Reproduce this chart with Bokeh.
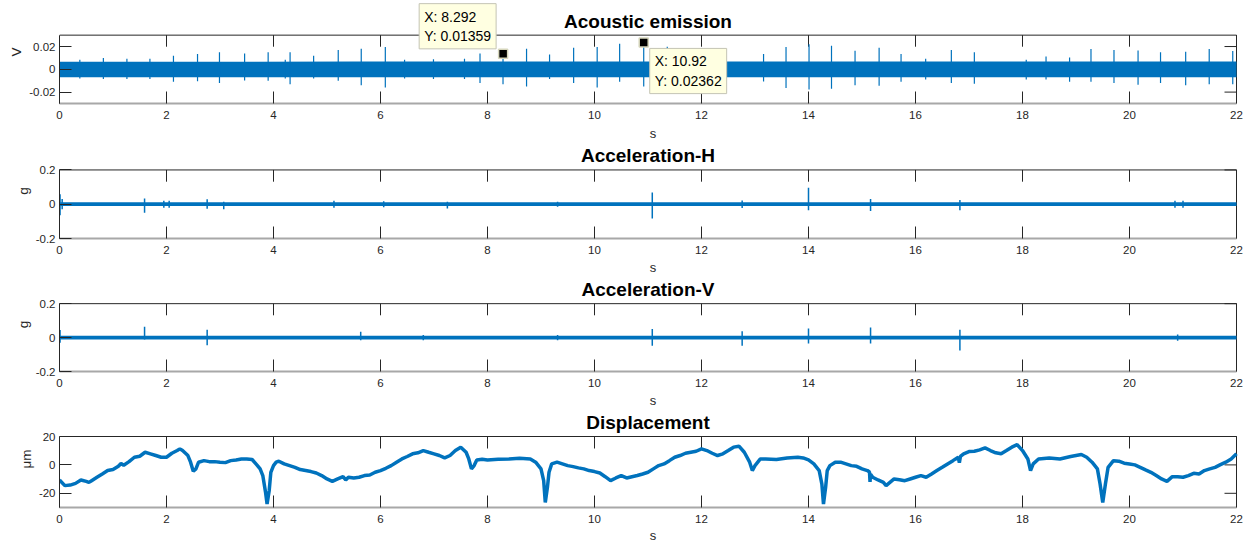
from bokeh.plotting import figure
from bokeh.models import Range1d, FixedTicker, Label, CustomJSTickFormatter
from bokeh.layouts import column
from bokeh.embed import file_html
from bokeh.resources import INLINE

# ---------------- data ----------------
x_ticks = [0, 2, 4, 6, 8, 10, 12, 14, 16, 18, 20, 22]
x_lim = (0, 22)

titles = ["Acoustic emission", "Acceleration-H", "Acceleration-V", "Displacement"]
y_labels = ["V", "g", "g", "\u03bcm"]
x_label = "s"

ae_lim = (-0.03, 0.03)
acc_lim = (-0.2, 0.2)
disp_lim = (-30, 20)
ae_ticks = [-0.02, 0, 0.02]
acc_ticks = [-0.2, 0, 0.2]
disp_ticks = [-20, 0, 20]

# acoustic emission: dense noise band envelope + burst spikes
ae_env_t = [0, 5.5, 11, 16.5, 22]
ae_env_hi = [0.0066, 0.0068, 0.0069, 0.0068, 0.0068]
ae_env_lo = [-0.0070, -0.0069, -0.0069, -0.0069, -0.0070]
ae_spk_t = [0.38, 0.82, 1.26, 1.69, 2.13, 2.58, 2.99, 3.46, 3.90, 4.22, 4.31, 4.75,
            5.21, 5.64, 6.09, 6.45, 6.99, 7.57, 7.86, 8.29, 8.73, 9.16, 9.61, 10.05,
            10.47, 10.92, 11.36, 11.80, 12.24, 13.16, 13.58, 14.01, 14.43, 14.87,
            15.32, 15.73, 16.19, 16.67, 17.10, 18.07, 18.44, 18.88, 19.28, 19.71,
            20.16, 20.58, 21.05, 21.49, 21.93]
ae_spk_hi = [0.0085, 0.0099, 0.0092, 0.0092, 0.0120, 0.0135, 0.0150, 0.0140, 0.0150,
             0.0085, 0.0150, 0.0120, 0.0170, 0.0180, 0.0197, 0.0085, 0.0088, 0.0092,
             0.0140, 0.0136, 0.0180, 0.0130, 0.0190, 0.0197, 0.0225, 0.0236, 0.0198,
             0.0140, 0.0140, 0.0135, 0.0197, 0.0220, 0.0206, 0.0163, 0.0190, 0.0135,
             0.0093, 0.0170, 0.0150, 0.0085, 0.0113, 0.0104, 0.0178, 0.0170, 0.0166,
             0.0150, 0.0155, 0.0178, 0.0160]
ae_spk_lo = [-0.0080, -0.0085, -0.0085, -0.0085, -0.0110, -0.0104, -0.0120, -0.0099,
             -0.0100, -0.0080, -0.0130, -0.0080, -0.0100, -0.0140, -0.0160, -0.0080,
             -0.0085, -0.0085, -0.0120, -0.0130, -0.0150, -0.0085, -0.0120, -0.0160,
             -0.0110, -0.0150, -0.0110, -0.0100, -0.0100, -0.0107, -0.0163, -0.0178,
             -0.0170, -0.0140, -0.0144, -0.0110, -0.0090, -0.0120, -0.0127, -0.0090,
             -0.0090, -0.0110, -0.0110, -0.0120, -0.0135, -0.0120, -0.0140, -0.0132,
             -0.0130]

# data tips
tip_x = [8.292, 10.92]
tip_y = [0.01359, 0.02362]
tip_text = ["X: 8.292\nY: 0.01359", "X: 10.92\nY: 0.02362"]

# acceleration-H
acch_env_t = [0, 11, 22]
acch_env_hi = [0.011, 0.011, 0.011]
acch_env_lo = [-0.011, -0.011, -0.011]
acch_spk_t = [0.01, 0.05, 1.59, 1.95, 2.05, 2.76, 3.07, 5.13, 6.06, 7.25, 9.31,
              11.08, 12.76, 14.00, 15.16, 16.83, 20.85, 21.00]
acch_spk_hi = [0.058, 0.030, 0.033, 0.020, 0.020, 0.029, 0.015, 0.020, 0.018, 0.015,
               0.015, 0.068, 0.022, 0.096, 0.031, 0.025, 0.020, 0.020]
acch_spk_lo = [-0.065, -0.030, -0.050, -0.020, -0.020, -0.027, -0.030, -0.020, -0.018,
               -0.025, -0.015, -0.084, -0.022, -0.035, -0.040, -0.035, -0.020, -0.020]

# acceleration-V
accv_env_t = [0, 11, 22]
accv_env_hi = [0.011, 0.011, 0.011]
accv_env_lo = [-0.011, -0.011, -0.011]
accv_spk_t = [0.01, 1.59, 2.76, 5.63, 6.80, 9.31, 11.08, 12.76, 14.00, 15.16, 16.83, 20.90]
accv_spk_hi = [0.045, 0.064, 0.046, 0.035, 0.015, 0.015, 0.050, 0.037, 0.054, 0.059,
               0.046, 0.018]
accv_spk_lo = [-0.030, -0.012, -0.045, -0.016, -0.015, -0.015, -0.048, -0.048, -0.035,
               -0.035, -0.076, -0.018]

# displacement (um)
disp_t = [0.0, 0.1, 0.2, 0.3, 0.4, 0.5, 0.55, 0.6, 0.7, 0.8, 0.9, 1.0, 1.1, 1.15, 1.2,
          1.3, 1.4, 1.5, 1.6, 1.7, 1.8, 1.9, 2.0, 2.1, 2.2, 2.25, 2.3, 2.4, 2.45, 2.5,
          2.55, 2.6, 2.7, 2.8, 2.9, 3.0, 3.1, 3.2, 3.3, 3.4, 3.5, 3.6, 3.7, 3.75, 3.8,
          3.85, 3.88, 3.92, 3.95, 4.0, 4.05, 4.1, 4.2, 4.3, 4.4, 4.5, 4.6, 4.7, 4.8,
          4.9, 5.0, 5.1, 5.2, 5.3, 5.35, 5.4, 5.5, 5.6, 5.7, 5.8, 5.9, 6.0, 6.1, 6.2,
          6.3, 6.4, 6.5, 6.6, 6.7, 6.8, 6.9, 7.0, 7.1, 7.2, 7.3, 7.4, 7.5, 7.6, 7.65,
          7.7, 7.75, 7.8, 7.9, 8.0, 8.2, 8.4, 8.6, 8.8, 8.9, 9.0, 9.05, 9.08, 9.12,
          9.15, 9.2, 9.3, 9.4, 9.5, 9.6, 9.7, 9.8, 9.9, 10.0, 10.1, 10.2, 10.3, 10.4,
          10.5, 10.6, 10.7, 10.8, 10.9, 11.0, 11.1, 11.2, 11.3, 11.4, 11.5, 11.6, 11.7,
          11.8, 11.9, 12.0, 12.1, 12.2, 12.3, 12.4, 12.5, 12.6, 12.7, 12.8, 12.9,
          12.95, 13.0, 13.1, 13.2, 13.4, 13.6, 13.8, 13.9, 14.0, 14.1, 14.2, 14.25,
          14.28, 14.32, 14.35, 14.4, 14.5, 14.6, 14.7, 14.8, 14.9, 15.0, 15.1, 15.14,
          15.15, 15.16, 15.2, 15.3, 15.4, 15.45, 15.5, 15.6, 15.7, 15.8, 15.9, 16.0,
          16.1, 16.2, 16.3, 16.4, 16.5, 16.6, 16.7, 16.8, 16.82, 16.84, 16.9, 17.0,
          17.1, 17.2, 17.3, 17.4, 17.5, 17.6, 17.7, 17.8, 17.9, 18.0, 18.1, 18.15,
          18.2, 18.3, 18.5, 18.7, 18.9, 19.1, 19.2, 19.3, 19.4, 19.45, 19.5, 19.55,
          19.6, 19.7, 19.8, 19.9, 20.0, 20.1, 20.2, 20.3, 20.4, 20.5, 20.6, 20.7,
          20.8, 20.9, 21.0, 21.1, 21.2, 21.3, 21.4, 21.5, 21.6, 21.7, 21.8, 21.9, 22.0]
disp_v = [-10.6, -14.6, -14.2, -13.0, -10.6, -11.6, -12.3, -11.1, -8.7, -6.4, -4.0,
          -3.3, -1.0, 1.0, -0.2, 2.3, 5.4, 6.1, 8.9, 7.8, 6.6, 5.4, 5.4, 8.2, 10.1,
          11.3, 10.1, 6.6, 1.9, -4.5, -2.8, 1.9, 3.0, 2.3, 2.3, 1.9, 1.6, 3.0, 3.5,
          4.2, 4.2, 3.8, -0.5, -2.8, -7.5, -19.0, -27.6, -18.0, -5.2, -0.5, 1.9, 2.6,
          0.7, -0.5, -1.7, -3.3, -4.0, -4.7, -5.7, -7.5, -9.9, -11.6, -9.9, -8.3,
          -10.6, -8.7, -9.2, -8.7, -7.5, -7.1, -5.2, -4.0, -2.4, -0.5, 1.9, 4.2, 5.9,
          7.8, 8.5, 10.1, 8.9, 7.8, 6.6, 4.9, 6.6, 10.1, 12.5, 8.9, 4.2, -2.8, -0.5,
          3.5, 4.0, 3.5, 4.0, 4.2, 4.7, 4.2, 1.9, -2.8, -11.0, -26.4, -15.8, -5.2,
          0.7, 1.9, 0.7, -0.5, -1.2, -2.1, -2.8, -4.0, -4.7, -5.7, -8.3, -11.1, -9.2,
          -7.5, -9.2, -8.3, -7.5, -6.4, -5.2, -2.8, -0.5, 0.7, 3.0, 5.4, 6.6, 8.2,
          8.9, 9.6, 11.3, 10.1, 8.2, 6.6, 7.8, 10.1, 12.5, 13.2, 8.9, 1.9, -4.0, -0.5,
          4.2, 4.2, 3.8, 4.9, 5.4, 4.9, 3.5, 0.7, -4.0, -13.5, -27.6, -15.8, -4.0,
          -0.5, 1.9, 1.9, 0.7, -0.5, -1.0, -2.8, -4.0, -5.0, -12.0, -6.5, -8.7, -10.6,
          -12.3, -14.6, -13.0, -9.9, -10.4, -11.1, -9.9, -8.7, -7.5, -8.7, -6.4, -4.0,
          -1.7, 0.7, 3.0, 5.4, 1.5, 6.0, 7.8, 9.4, 9.6, 10.6, 12.0, 10.1, 8.5, 7.8,
          10.1, 12.5, 14.3, 10.1, 4.2, -4.0, 0.7, 4.2, 4.9, 4.2, 5.9, 7.3, 5.4, 1.9,
          -2.8, -13.5, -26.4, -13.5, -1.7, 3.0, 2.6, 1.2, 0.7, 0.0, -1.7, -3.5, -5.2,
          -7.5, -9.9, -11.6, -8.3, -8.3, -8.7, -7.5, -5.9, -6.4, -4.0, -2.8, -1.7,
          0.2, 1.9, 4.2, 7.8]

# ---------------- styling ----------------
BLUE = "#0072BD"
AX = "#262626"
FONT = "Liberation Sans"
W = 1246
LEFT = 59          # px from canvas left to the axes box
BOX_W = 1177       # axes box width in px
TICK = 12          # inward tick length in px
FMT = "return tick.toString();"


def make_fig(height, top_px, box_px, bottom, yr, yticks, ylabel, title, xlab_standoff):
    ymin, ymax = yr
    xmin, xmax = x_lim
    right_px = W - LEFT - BOX_W
    px_y = (ymax - ymin) / box_px
    px_x = (xmax - xmin) / BOX_W
    p = figure(width=W, height=height, output_backend="svg", toolbar_location=None,
               x_range=Range1d(xmin, xmax + right_px * px_x),
               y_range=Range1d(ymin, ymax + top_px * px_y),
               min_border_left=LEFT, min_border_right=0,
               min_border_top=0, min_border_bottom=bottom)
    p.grid.visible = False
    p.outline_line_color = None
    p.background_fill_color = "white"
    p.border_fill_color = "white"

    xa = p.xaxis[0]
    xa.bounds = (xmin, xmax)
    xa.ticker = FixedTicker(ticks=x_ticks)
    xa.formatter = CustomJSTickFormatter(code=FMT)
    xa.major_tick_in = TICK
    xa.major_tick_out = 0
    xa.minor_tick_line_color = None
    xa.major_tick_line_color = AX
    xa.axis_line_color = "#a8a8a8"
    xa.axis_line_width = 2
    xa.major_label_text_font = FONT
    xa.major_label_text_font_size = "11.5px"
    xa.major_label_text_color = AX
    xa.major_label_standoff = 7
    xa.axis_label = x_label
    xa.axis_label_text_font = FONT
    xa.axis_label_text_font_style = "normal"
    xa.axis_label_text_font_size = "13px"
    xa.axis_label_text_color = AX
    xa.axis_label_standoff = xlab_standoff

    ya = p.yaxis[0]
    ya.bounds = (ymin, ymax)
    ya.ticker = FixedTicker(ticks=yticks)
    ya.formatter = CustomJSTickFormatter(code=FMT)
    ya.major_tick_in = TICK
    ya.major_tick_out = 0
    ya.minor_tick_line_color = None
    ya.major_tick_line_color = AX
    ya.axis_line_color = AX
    ya.major_label_text_font = FONT
    ya.major_label_text_font_size = "11.5px"
    ya.major_label_text_color = AX
    ya.major_label_standoff = 4
    ya.axis_label = ylabel
    ya.axis_label_text_font = FONT
    ya.axis_label_text_font_style = "normal"
    ya.axis_label_text_font_size = "13.5px"
    ya.axis_label_text_color = AX
    ya.axis_label_standoff = 2

    # box top and right edges with inward ticks (MATLAB "box on")
    p.segment(x0=[xmin], y0=[ymax], x1=[xmax], y1=[ymax], line_color=AX, line_width=1)
    p.segment(x0=[xmax], y0=[ymin], x1=[xmax], y1=[ymax], line_color=AX, line_width=1)
    p.segment(x0=x_ticks, y0=[ymax] * len(x_ticks), x1=x_ticks,
              y1=[ymax - TICK * px_y] * len(x_ticks), line_color=AX, line_width=1)
    p.segment(x0=[xmax] * len(yticks), y0=yticks, x1=[xmax - TICK * px_x] * len(yticks),
              y1=yticks, line_color=AX, line_width=1)

    p.add_layout(Label(x=(xmin + xmax) / 2, y=ymax, y_offset=14, text=title,
                       text_align="center", text_baseline="alphabetic",
                       text_font=FONT, text_font_style="bold",
                       text_font_size="19px", text_color="black"))
    return p


p1 = make_fig(143, 36, 71, 36, ae_lim, ae_ticks, y_labels[0], titles[0], 4)
p1.varea(x=ae_env_t, y1=ae_env_lo, y2=ae_env_hi, fill_color=BLUE)
p1.segment(x0=ae_spk_t, y0=ae_spk_lo, x1=ae_spk_t, y1=ae_spk_hi,
           line_color=BLUE, line_width=1.2)
p1.scatter(x=tip_x, y=tip_y, marker="square", size=9, fill_color="black",
           line_color="#d6d6bc", line_width=1.5)
tip_style = dict(text_font=FONT, text_font_size="14px", text_color="black",
                 text_line_height=1.2, background_fill_color="#ffffe1",
                 border_line_color="#c4c4b4", border_line_width=1, padding=5,
                 text_align="left")
p1.add_layout(Label(x=tip_x[0], y=tip_y[0], x_offset=-7, y_offset=5,
                    text=tip_text[0], anchor="bottom_right", **tip_style))
p1.add_layout(Label(x=tip_x[1], y=tip_y[1], x_offset=6, y_offset=-6,
                    text=tip_text[1], anchor="top_left", **tip_style))

p2 = make_fig(134, 27, 70, 37, acc_lim, acc_ticks, y_labels[1], titles[1], 3)
p2.varea(x=acch_env_t, y1=acch_env_lo, y2=acch_env_hi, fill_color=BLUE)
p2.segment(x0=acch_spk_t, y0=acch_spk_lo, x1=acch_spk_t, y1=acch_spk_hi,
           line_color=BLUE, line_width=1.5)

p3 = make_fig(133, 27, 70, 36, acc_lim, acc_ticks, y_labels[2], titles[2], 3)
p3.varea(x=accv_env_t, y1=accv_env_lo, y2=accv_env_hi, fill_color=BLUE)
p3.segment(x0=accv_spk_t, y0=accv_spk_lo, x1=accv_spk_t, y1=accv_spk_hi,
           line_color=BLUE, line_width=1.5)

p4 = make_fig(135, 26, 71, 38, disp_lim, disp_ticks, y_labels[3], titles[3], 2)
p4.line(x=disp_t, y=disp_v, line_color=BLUE, line_width=3.5)

layout = column(p1, p2, p3, p4, spacing=0)

open("out.html", "w").write(file_html(layout, INLINE))
